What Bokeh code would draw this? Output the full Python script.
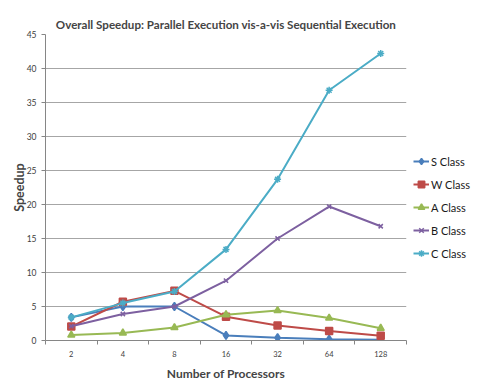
from bokeh.plotting import figure
from bokeh.models import Range1d, FixedTicker, Legend, LegendItem
from bokeh.embed import file_html
from bokeh.resources import INLINE

processors = ["2", "4", "8", "16", "32", "64", "128"]
s_class = [3.4, 5.0, 5.0, 0.75, 0.4, 0.2, 0.1]
w_class = [2.05, 5.7, 7.3, 3.5, 2.2, 1.4, 0.7]
a_class = [0.8, 1.1, 1.9, 3.8, 4.4, 3.3, 1.8]
b_class = [2.1, 3.9, 5.0, 8.8, 15.0, 19.7, 16.8]
c_class = [3.4, 5.5, 7.2, 13.4, 23.7, 36.8, 42.2]

series = [
    ("S Class", s_class, "#4a7ebb", "diamond", 8),
    ("W Class", w_class, "#be4b48", "square", 7),
    ("A Class", a_class, "#98b954", "triangle", 7),
    ("B Class", b_class, "#7d60a0", "x", 6),
    ("C Class", c_class, "#4bacc6", "asterisk", 7),
]

xs = [i + 0.5 for i in range(len(processors))]

p = figure(frame_width=361, frame_height=306, output_backend="svg",
           toolbar_location=None,
           x_range=Range1d(0, len(processors)), y_range=Range1d(0, 45),
           min_border_left=45, min_border_right=73, min_border_top=34,
           min_border_bottom=48)
p.styles = {"border-right": "1px solid #c4c4c4"}

p.title.text = "Overall Speedup: Parallel Execution vis-a-vis Sequential Execution"
p.title.align = "center"
p.title.text_font = "Lato"
p.title.text_font_size = "11.6px"
p.title.text_font_style = "bold"
p.title.offset = 25
p.title.standoff = 8

p.outline_line_color = None
p.xgrid.visible = False
p.ygrid.grid_line_color = "#a6a6a6"
p.ygrid.grid_line_width = 1

p.yaxis.ticker = FixedTicker(ticks=list(range(0, 46, 5)))
p.yaxis.axis_line_color = "#868686"
p.yaxis.major_tick_line_color = "#868686"
p.yaxis.major_tick_out = 4
p.yaxis.major_tick_in = 0
p.yaxis.minor_tick_line_color = None
p.yaxis.major_label_text_font = "Lato"
p.yaxis.major_label_text_font_size = "8.5px"
p.yaxis.major_label_text_color = "#404040"
p.yaxis.axis_label = "Speedup"
p.yaxis.axis_label_text_font = "Lato"
p.yaxis.axis_label_text_font_size = "12.5px"
p.yaxis.axis_label_text_font_style = "bold"
p.yaxis.axis_label_standoff = -3

p.xaxis.ticker = FixedTicker(ticks=xs, minor_ticks=list(range(len(processors) + 1)))
p.xaxis.major_label_overrides = {x: lab for x, lab in zip(xs, processors)}
p.xaxis.major_tick_line_color = None
p.xaxis.minor_tick_line_color = "#868686"
p.xaxis.minor_tick_out = 4
p.xaxis.minor_tick_in = 0
p.xaxis.axis_line_color = "#868686"
p.xaxis.major_label_text_font = "Lato"
p.xaxis.major_label_text_font_size = "7.5px"
p.xaxis.major_label_text_color = "#404040"
p.xaxis.major_label_standoff = 4
p.xaxis.axis_label = "Number of Processors"
p.xaxis.axis_label_text_font = "Lato"
p.xaxis.axis_label_text_font_size = "12px"
p.xaxis.axis_label_text_font_style = "bold"
p.xaxis.axis_label_standoff = 6

items = []
for name, vals, color, marker, size in series:
    ln = p.line(xs, vals, line_color=color, line_width=2)
    mk = p.scatter(xs, vals, marker=marker, size=size, fill_color=color,
                   line_color=color, line_width=1.5)
    items.append(LegendItem(label=name, renderers=[ln, mk]))

legend = Legend(items=items, location=(7, 79), background_fill_alpha=0,
                border_line_color=None, label_text_font="Lato",
                label_text_font_size="11px", label_text_color="#1a1a1a",
                glyph_width=16, glyph_height=16, spacing=7, padding=0,
                label_standoff=2, margin=0, label_height=16)
p.add_layout(legend, "right")

open("out.html", "w").write(file_html(p, INLINE))
